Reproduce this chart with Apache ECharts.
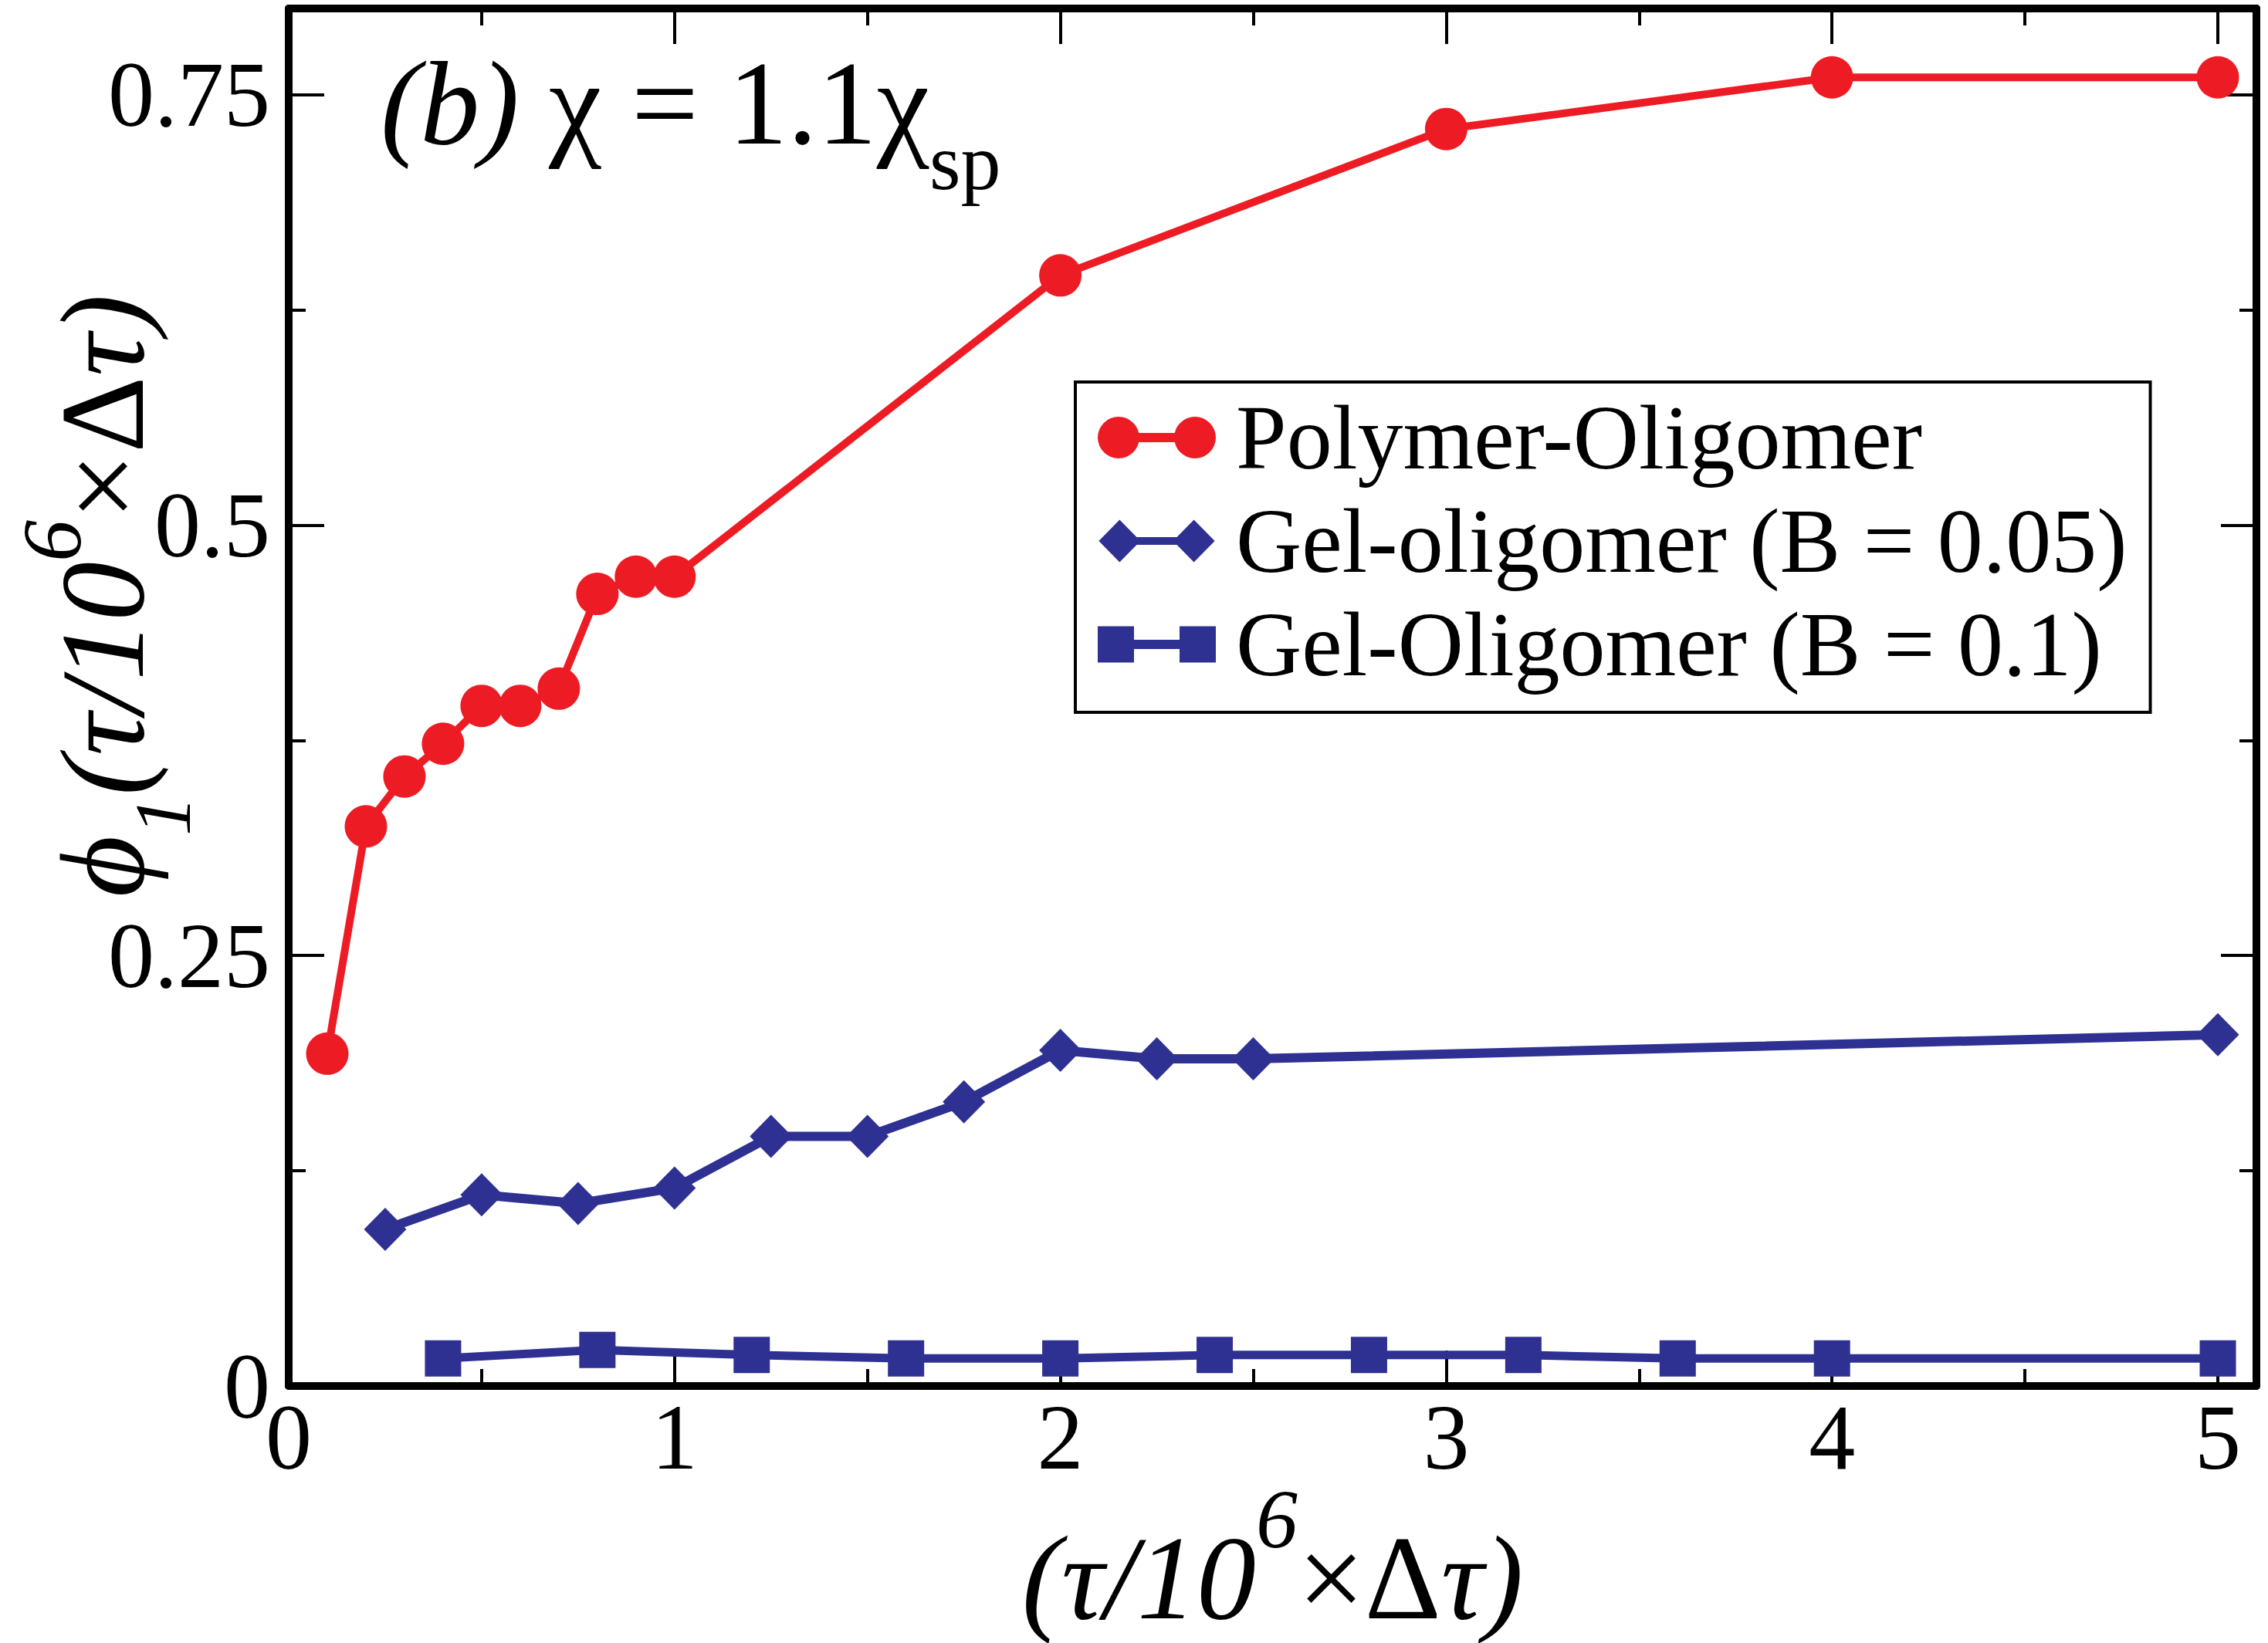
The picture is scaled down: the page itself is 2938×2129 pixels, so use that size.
<!DOCTYPE html>
<html>
<head>
<meta charset="utf-8">
<title>Polymer / gel oligomer fraction</title>
<script src="https://cdn.jsdelivr.net/npm/echarts@6/dist/echarts.min.js"></script>
<style>
  html, body { margin: 0; padding: 0; background: #fff; }
  #chart { width: 2938px; height: 2129px; }
</style>
</head>
<body>
<div id="chart"></div>
<script>
// values
var polymerX = [0.1, 0.2, 0.3, 0.4, 0.5, 0.6, 0.7, 0.8, 0.9, 1, 2, 3, 4, 5];
var polymerY = [0.193, 0.325, 0.354, 0.373, 0.395, 0.395, 0.405, 0.460, 0.470, 0.470, 0.645, 0.730, 0.760, 0.760];

var gel005X = [0.25, 0.5, 0.75, 1, 1.25, 1.5, 1.75, 2, 2.25, 2.5, 5];
var gel005Y = [0.091, 0.111, 0.106, 0.115, 0.145, 0.145, 0.165, 0.195, 0.190, 0.190, 0.204];

var gel01X = [0.4, 0.8, 1.2, 1.6, 2, 2.4, 2.8, 3.2, 3.6, 4, 5];
var gel01Y = [0.016, 0.021, 0.018, 0.016, 0.016, 0.018, 0.018, 0.018, 0.016, 0.016, 0.016];

var seriesNames = ['Polymer-Oligomer', 'Gel-oligomer (B = 0.05)', 'Gel-Oligomer (B = 0.1)'];

var xTicks = [0, 1, 2, 3, 4, 5];
var xTickLabels = ['0', '1', '2', '3', '4', '5'];
var yTicks = [0, 0.25, 0.5, 0.75];
var yTickLabels = ['0', '0.25', '0.5', '0.75'];

(function () {
  var SERIF = "'Liberation Serif', 'DejaVu Serif', serif";
  var RED = '#ED1C24';
  var BLUE = '#2E3192';

  function pairs(xs, ys) {
    return xs.map(function (x, i) { return [x, ys[i]]; });
  }

  function tickLabel(ticks, labels) {
    return function (value) {
      for (var i = 0; i < ticks.length; i++) {
        if (Math.abs(ticks[i] - value) < 1e-9) return labels[i];
      }
      return '';
    };
  }

  // shift > 0 raises the token (superscript), shift < 0 lowers it (subscript)
  function txt(size, lineHeight, italic, shift) {
    var style = {
      fontFamily: SERIF,
      fontStyle: italic ? 'italic' : 'normal',
      fontWeight: 'normal',
      fontSize: size,
      lineHeight: lineHeight,
      color: '#000'
    };
    if (shift > 0) style.padding = [0, 0, 2 * shift, 0];
    if (shift < 0) style.padding = [-2 * shift, 0, 0, 0];
    return style;
  }

  function nameRich(supShift) {
    return {
      i: txt(154, 220, true),
      m: txt(154, 220, false),
      sup: txt(108, 30, true, supShift),
      sub: txt(104, 30, true, -77)
    };
  }

  function axis(opts) {
    var major = !opts.minor;
    return {
      type: 'value',
      gridIndex: major ? 0 : 1,
      position: opts.position,
      min: 0,
      max: opts.max,
      interval: opts.interval,
      z: 3,
      axisLine: { show: major, onZero: false, lineStyle: { color: '#000', width: 10 } },
      axisTick: { show: true, inside: true, length: major ? 46 : 22, lineStyle: { color: '#000', width: 4 } },
      axisLabel: opts.label || { show: false },
      splitLine: { show: false },
      name: opts.name || '',
      nameLocation: 'middle',
      nameGap: opts.nameGap || 0,
      nameMoveOverlap: false,
      nameTextStyle: opts.nameTextStyle || {}
    };
  }

  var xLabel = {
    show: true,
    margin: 6,
    fontFamily: SERIF,
    fontSize: 120,
    lineHeight: 120,
    color: '#000',
    formatter: tickLabel(xTicks, xTickLabels)
  };

  var yLabel = {
    show: true,
    margin: 24,
    fontFamily: SERIF,
    fontSize: 120,
    lineHeight: 120,
    color: '#000',
    formatter: tickLabel(yTicks, yTickLabels)
  };

  var gridBox = {
    left: 374, right: 15, top: 11, bottom: 333,
    containLabel: false,
    outerBoundsMode: 'none'
  };

  var circleIcon = 'path://M0,27.5A27,27 0 1 1 54,27.5A27,27 0 1 1 0,27.5Z' +
    'M99,27.5A27,27 0 1 1 153,27.5A27,27 0 1 1 99,27.5Z' +
    'M27,21.5L126,21.5L126,33.5L27,33.5Z';
  var diamondIcon = 'path://M0,28L27.5,0L55,28L27.5,56Z' +
    'M98,28L125.5,0L153,28L125.5,56Z' +
    'M27.5,23L125.5,23L125.5,33L27.5,33Z';
  var squareIcon = 'path://M0,0L47,0L47,47L0,47Z' +
    'M106,0L153,0L153,47L106,47Z' +
    'M47,17.5L106,17.5L106,29.5L47,29.5Z';

  function lineSeries(name, data, color, width, symbol, size) {
    return {
      name: name,
      type: 'line',
      xAxisIndex: 0,
      yAxisIndex: 0,
      data: data,
      symbol: symbol,
      symbolSize: size,
      showSymbol: true,
      clip: false,
      lineStyle: { color: color, width: width },
      itemStyle: { color: color, borderWidth: 0 },
      emphasis: { disabled: true }
    };
  }

  var chart = echarts.init(document.getElementById('chart'), null, { renderer: 'svg' });

  chart.setOption({
    animation: false,
    backgroundColor: '#fff',
    title: {
      text: '{i|(b)}{m| χ = 1.1χ}{s|sp}',
      left: 493,
      top: 34,
      padding: 0,
      textStyle: {
        fontWeight: 'normal',
        lineHeight: 200,
        rich: {
          i: txt(154, 200, true),
          m: txt(154, 200, false),
          s: txt(104, 20, false, -75)
        }
      }
    },
    legend: {
      orient: 'vertical',
      left: 1393,
      top: 495,
      padding: [11, 30, 27, 29],
      itemWidth: 153,
      itemHeight: 55,
      itemGap: 12,
      borderColor: '#000',
      borderWidth: 4,
      backgroundColor: '#fff',
      selectedMode: false,
      itemStyle: { borderWidth: 0 },
      textStyle: {
        fontFamily: SERIF,
        fontSize: 118,
        lineHeight: 100,
        color: '#000',
        padding: [0, 0, 22, 21]
      },
      data: [
        { name: seriesNames[0], icon: circleIcon },
        { name: seriesNames[1], icon: diamondIcon },
        { name: seriesNames[2], icon: squareIcon }
      ]
    },
    grid: [gridBox, gridBox],
    xAxis: [
      axis({
        position: 'bottom', max: 5.1, interval: 1, label: xLabel,
        name: '{i|(τ/10}{sup|6}{m|×Δ}{i|τ)}',
        nameGap: 139,
        nameTextStyle: { lineHeight: 220, rich: nameRich(77) }
      }),
      axis({ position: 'top', max: 5.1, interval: 1 }),
      axis({ position: 'bottom', max: 5.1, interval: 0.5, minor: true }),
      axis({ position: 'top', max: 5.1, interval: 0.5, minor: true })
    ],
    yAxis: [
      axis({
        position: 'left', max: 0.8, interval: 0.25, label: yLabel,
        name: '{i|ϕ}{sub|1}{i|(τ/10}{sup|6}{m|×Δ}{i|τ)}',
        nameGap: 131,
        nameTextStyle: { lineHeight: 220, padding: [0, 0, 0, 263], rich: nameRich(66) }
      }),
      axis({ position: 'right', max: 0.8, interval: 0.25 }),
      axis({ position: 'left', max: 0.8, interval: 0.125, minor: true }),
      axis({ position: 'right', max: 0.8, interval: 0.125, minor: true })
    ],
    series: [
      lineSeries(seriesNames[0], pairs(polymerX, polymerY), RED, 10, 'circle', 55),
      lineSeries(seriesNames[1], pairs(gel005X, gel005Y), BLUE, 12, 'diamond', [55, 56]),
      lineSeries(seriesNames[2], pairs(gel01X, gel01Y), BLUE, 11, 'rect', 47)
    ]
  });
})();
</script>
</body>
</html>
